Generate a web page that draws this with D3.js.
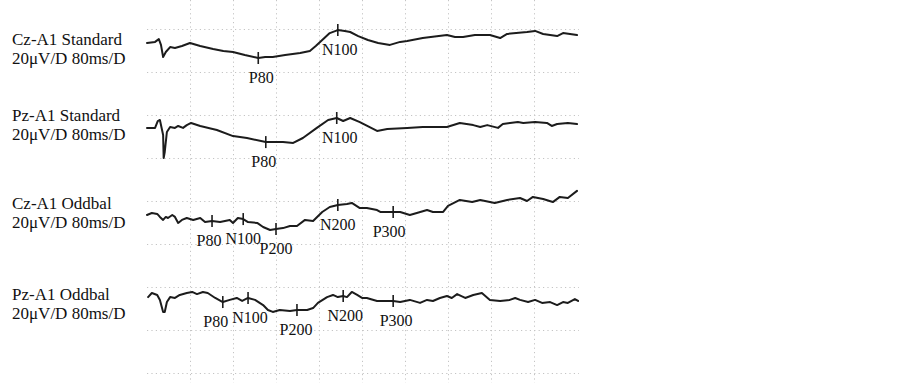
<!DOCTYPE html>
<html>
<head>
<meta charset="utf-8">
<script src="https://cdn.jsdelivr.net/npm/d3@7"></script>
<style>
  body { margin: 0; background: #fff; }
  svg { display: block; }
</style>
</head>
<body>
<svg id="erpSvg"></svg>
<script>
// trace names shown on the left
var traceNames = ["Cz-A1 Standard", "Pz-A1 Standard", "Cz-A1 Oddbal", "Pz-A1 Oddbal"];
var scaleText = "20\u03bcV/D 80ms/D";

// each trace: [time ms, amplitude uV] (negative up, as on the recorder)
var czStandard = [[0,6.5],[15,6.0],[22,4.7],[26,7.4],[30,13.0],[35,10.7],[43,8.4],[52,8.8],[65,7.9],[80,6.5],
  [99,7.9],[123,9.3],[142,10.2],[160,10.7],[182,12.1],[207,13.5],[220,13.0],[234,13.0],[257,12.1],[285,11.2],
  [303,10.2],[314,7.9],[326,5.1],[340,1.9],[355,0.5],[368,0.9],[378,1.4],[393,3.3],[411,5.1],[430,6.5],
  [452,7.4],[471,6.0],[484,5.6],[513,4.2],[558,2.8],[573,3.7],[588,3.7],[610,2.8],[638,2.8],[657,4.2],
  [670,2.3],[707,1.4],[722,0.9],[737,2.3],[763,3.3],[774,1.9],[800,2.8]];

var pzStandard = [[0,6.0],[15,6.0],[20,2.8],[24,2.3],[30,9.3],[31,20.0],[33,17.2],[37,7.9],[43,5.6],[52,6.0],
  [58,5.1],[67,6.0],[74,4.7],[82,3.7],[99,5.1],[130,7.0],[160,9.8],[186,10.7],[221,12.6],[253,12.6],
  [272,13.0],[290,10.7],[316,6.0],[337,2.3],[353,1.4],[365,2.8],[378,1.4],[396,3.3],[428,7.4],[447,6.5],
  [484,6.0],[513,5.6],[558,5.6],[582,3.7],[607,4.7],[620,5.6],[633,4.7],[653,6.0],[662,4.2],[690,3.3],
  [700,3.7],[722,3.3],[744,3.7],[753,5.1],[763,4.2],[783,3.7],[800,4.2]];

var czOddbal = [[0,6.5],[9,5.6],[19,6.0],[24,7.4],[30,8.8],[35,7.4],[39,7.9],[47,6.5],[52,7.4],[58,10.2],
  [65,8.8],[74,7.9],[86,8.8],[99,7.9],[108,9.8],[121,9.3],[136,9.8],[154,8.8],[160,10.2],[169,7.9],
  [179,8.4],[188,9.8],[205,10.2],[216,12.1],[229,13.5],[240,13.0],[253,12.6],[266,11.6],[279,11.6],[294,8.8],
  [309,9.3],[326,5.1],[340,2.8],[355,1.9],[372,1.4],[381,0.9],[396,3.3],[409,3.3],[428,4.2],[434,5.1],
  [458,5.1],[471,5.1],[489,6.5],[502,5.6],[521,4.2],[532,5.1],[551,5.1],[560,2.3],[582,-0.5],[605,0.5],
  [620,-0.5],[647,0.9],[670,-0.5],[694,-1.4],[707,0],[718,-1.9],[737,-0.9],[755,0.5],[768,-1.9],[783,-1.4],
  [800,-4.7]];

var pzOddbal = [[2,4.7],[9,2.8],[19,3.7],[24,6.0],[30,11.6],[33,11.6],[37,7.0],[43,4.7],[52,5.1],[61,3.7],
  [74,2.8],[84,2.3],[93,3.3],[104,2.3],[113,2.8],[127,5.1],[141,7.0],[154,6.0],[167,5.1],[177,6.5],
  [188,5.1],[201,6.0],[216,8.4],[225,10.7],[234,11.6],[247,10.7],[266,11.2],[279,10.7],[298,10.7],[309,9.8],
  [318,7.4],[335,4.7],[346,3.7],[355,4.7],[365,4.2],[372,4.7],[381,2.3],[391,3.7],[400,5.1],[409,5.1],
  [428,6.5],[458,6.5],[471,7.0],[489,6.0],[508,7.4],[521,6.0],[532,6.5],[545,5.1],[558,4.2],[567,5.1],
  [577,3.3],[592,5.1],[607,3.7],[623,2.8],[638,6.0],[657,6.5],[675,6.0],[685,5.1],[694,6.0],[709,7.0],
  [722,6.0],[735,7.4],[750,7.0],[763,8.4],[774,7.0],[783,7.4],[796,5.6],[802,6.5]];

var traces = [czStandard, pzStandard, czOddbal, pzOddbal];

// peak marks: name and latency (ms) for each trace
var peakNames = [["P80","N100"], ["P80","N100"], ["P80","N100","P200","N200","P300"], ["P80","N100","P200","N200","P300"]];
var peakTimes = [[207,355], [221,353], [121,179,240,355,458], [141,188,279,365,458]];

// --- layout ---
var width = 903, height = 383;
var gridLeft = 147, gridRight = 577, rowStep = 43, firstRow = 29;
var zeroRows = [0, 2, 4, 6];              // grid row used as zero level for each trace
var labelBase = [45, 121, 209, 300];      // baseline of first label line per trace
// small horizontal nudges so crowded peak names don't collide (px)
var nameNudge = [[3, 2], [-2, 3], [-3, 0, 0, 0, -4], [-7, 2, -1, 2, 3]];

var svg = d3.select("svg#erpSvg")
  .attr("width", width)
  .attr("height", height);

// time axis: 10 divisions of 80 ms
var x = d3.scaleLinear()
  .domain([0, 800])
  .range([gridLeft, gridRight]);

//dotted grid
var grid = svg.append("g").attr("class", "grid")
  .attr("stroke", "#c4c4c4")
  .attr("stroke-width", 1)
  .attr("stroke-dasharray", "1.2,3.2");

d3.range(80, 800, 80).forEach(function(t) {
  grid.append("line")
    .attr("x1", Math.round(x(t)) + 0.5).attr("x2", Math.round(x(t)) + 0.5)
    .attr("y1", 0).attr("y2", height);
});
d3.range(0, 9).forEach(function(r) {
  grid.append("line")
    .attr("x1", gridLeft).attr("x2", gridRight + 2)
    .attr("y1", firstRow + r * rowStep + 0.5).attr("y2", firstRow + r * rowStep + 0.5);
});

var font = "'Liberation Serif', 'Times New Roman', serif";

traces.forEach(function(data, i) {
  var zero = firstRow + zeroRows[i] * rowStep;
  // 20 uV per division
  var y = d3.scaleLinear()
    .domain([0, 20])
    .range([zero, zero + rowStep]);

  var line = d3.line()
    .x(function(d) { return x(d[0]); })
    .y(function(d) { return y(d[1]); });

  //left labels
  svg.append("text")
    .attr("x", 12).attr("y", labelBase[i])
    .attr("font-family", font).attr("font-size", 17)
    .attr("fill", "#111")
    .text(traceNames[i]);
  svg.append("text")
    .attr("x", 12).attr("y", labelBase[i] + 19)
    .attr("font-family", font).attr("font-size", 17)
    .attr("fill", "#111")
    .text(scaleText);

  svg.append("path")
    .datum(data)
    .attr("fill", "none")
    .attr("stroke", "#1c1c1c")
    .attr("stroke-width", 2)
    .attr("stroke-linejoin", "round")
    .attr("stroke-linecap", "round")
    .attr("d", line);

  // value of the trace at a given time (linear between points)
  var bisect = d3.bisector(function(d) { return d[0]; }).left;
  function valueAt(t) {
    var k = bisect(data, t);
    if (k <= 0) return data[0][1];
    if (k >= data.length) return data[data.length - 1][1];
    var a = data[k - 1], b = data[k];
    return a[1] + (b[1] - a[1]) * (t - a[0]) / (b[0] - a[0]);
  }

  peakTimes[i].forEach(function(t, j) {
    var px = x(t), py = y(valueAt(t));
    svg.append("line")
      .attr("x1", px).attr("x2", px)
      .attr("y1", py - 6).attr("y2", py + 6)
      .attr("stroke", "#1c1c1c")
      .attr("stroke-width", 1.6);
    svg.append("text")
      .attr("x", px + nameNudge[i][j]).attr("y", py + 25)
      .attr("text-anchor", "middle")
      .attr("font-family", font).attr("font-size", 16)
      .attr("fill", "#111")
      .text(peakNames[i][j]);
  });
});
</script>
</body>
</html>
